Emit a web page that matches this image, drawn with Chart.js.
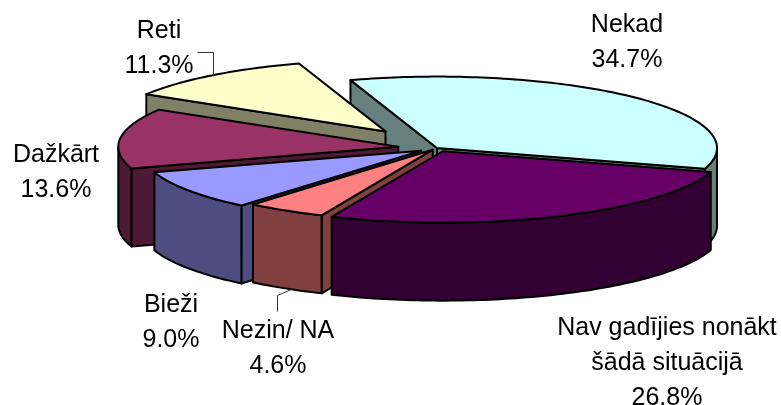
<!DOCTYPE html>
<html>
<head>
<meta charset="utf-8">
<style>
  html, body { margin: 0; padding: 0; background: #fff; overflow: hidden; }
  canvas { display: block; }
</style>
<script src="https://cdn.jsdelivr.net/npm/chart.js@4"></script>
</head>
<body>
<canvas id="pie" width="781" height="405"></canvas>
<script>
const categories = ["Nekad", "Nav gadījies nonākt|šādā situācijā", "Nezin/ NA", "Bieži", "Dažkārt", "Reti"];
const shares = [34.7, 26.8, 4.6, 9.0, 13.6, 11.3];

const topColors = ['#CCFFFF', '#660066', '#FF8080', '#9999FF', '#993366', '#FFFFCC'];
const wallColors = ['#668080', '#330033', '#804040', '#4D4D80', '#4D1A33', '#808066'];
const explode = [0, 14, 8, 19, 39, 83];
const paintOrder = [0, 5, 4, 3, 2, 1];

// centre of each label block, in page pixels
const labelX = [627, 667, 278, 171, 56, 159];
const labelY = [25, 328, 331, 305, 155, 31];
const leaders = [
  [[197, 52], [213, 52], [213, 75]],
  [[277, 311], [277, 295], [293, 288]]
];

const pieX = 437, pieY = 148, squash = 0.255, depth = 78, lineW = 2;

const fakePie3d = {
  id: 'fakePie3d',
  beforeDatasetDraw(chart, args) {
    const ctx = chart.ctx;
    const els = chart.getDatasetMeta(args.index).data;
    paintOrder.forEach(i => {
      const el = els[i];
      const { x, y, startAngle, endAngle, outerRadius } = el.getProps(['x', 'y', 'startAngle', 'endAngle', 'outerRadius'], true);
      const mid = (startAngle + endAngle) / 2;
      const ox = Math.cos(mid) * explode[i], oy = Math.sin(mid) * explode[i];
      const pt = (a, r) => [pieX + ox + r * Math.cos(a), pieY + squash * (oy + r * Math.sin(a))];
      const apex = pt(0, 0);
      const steps = Math.ceil((endAngle - startAngle) / 0.02);
      const rim = [];
      for (let s = 0; s <= steps; s++) rim.push(startAngle + (endAngle - startAngle) * s / steps);

      ctx.save();
      ctx.lineWidth = lineW;
      ctx.lineJoin = 'round';
      ctx.strokeStyle = '#000';
      ctx.fillStyle = wallColors[i];

      const shape = pts => {
        ctx.beginPath();
        pts.forEach((p, n) => n ? ctx.lineTo(p[0], p[1]) : ctx.moveTo(p[0], p[1]));
        ctx.closePath();
        ctx.fill();
        ctx.stroke();
      };
      const drop = p => [p[0], p[1] + depth];
      const cutFace = a => {
        const p = pt(a, outerRadius);
        shape([apex, p, drop(p), drop(apex)]);
      };

      // cut faces, only the ones turned towards the viewer
      if (Math.cos(startAngle) < 0) cutFace(startAngle);
      if (Math.cos(endAngle) > 0) cutFace(endAngle);

      // outer wall, only the part of the rim that faces the viewer
      const front = rim.filter(a => Math.sin(a) >= 0);
      if (front.length > 1) {
        const upper = front.map(a => pt(a, outerRadius));
        shape(upper.concat(upper.map(drop).reverse()));
      }

      // top face comes from the library's own arc
      ctx.save();
      ctx.translate(pieX, pieY);
      ctx.scale(1, squash);
      ctx.translate(ox - x, oy - y);
      el.draw(ctx, chart.chartArea);
      ctx.restore();

      ctx.beginPath();
      ctx.moveTo(apex[0], apex[1]);
      rim.forEach(a => { const p = pt(a, outerRadius); ctx.lineTo(p[0], p[1]); });
      ctx.closePath();
      ctx.stroke();
      ctx.restore();
    });
    return false;
  },
  afterDraw(chart) {
    const ctx = chart.ctx;
    ctx.save();
    ctx.strokeStyle = '#333';
    ctx.lineWidth = 1;
    leaders.forEach(l => {
      ctx.beginPath();
      l.forEach((p, n) => n ? ctx.lineTo(p[0] + 0.5, p[1] + 0.5) : ctx.moveTo(p[0] + 0.5, p[1] + 0.5));
      ctx.stroke();
    });
    ctx.fillStyle = '#000';
    ctx.font = '25px "Liberation Sans", Arial, sans-serif';
    ctx.textAlign = 'center';
    ctx.textBaseline = 'middle';
    categories.forEach((c, i) => {
      const lines = c.split('|').concat(shares[i].toFixed(1) + '%');
      lines.forEach((t, n) => ctx.fillText(t, labelX[i], labelY[i] + n * 35));
    });
    ctx.restore();
  }
};

new Chart(document.getElementById('pie').getContext('2d'), {
  type: 'pie',
  data: {
    labels: categories,
    datasets: [{
      data: shares,
      backgroundColor: topColors,
      borderWidth: 0,
      radius: 280
    }]
  },
  options: {
    responsive: false,
    animation: false,
    rotation: -18,
    plugins: {
      legend: { display: false },
      tooltip: { enabled: false }
    }
  },
  plugins: [fakePie3d]
});
</script>
</body>
</html>
